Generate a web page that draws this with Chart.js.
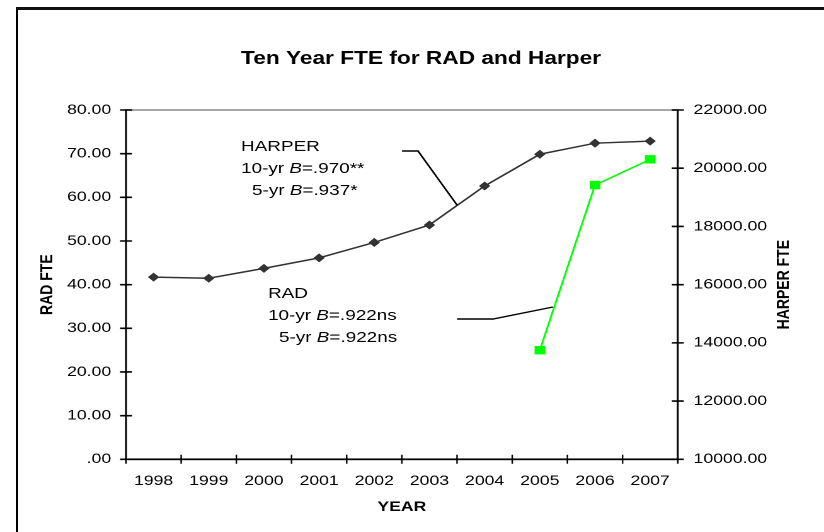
<!DOCTYPE html>
<html>
<head>
<meta charset="utf-8">
<script src="https://cdn.jsdelivr.net/npm/chart.js@4.4.0/dist/chart.umd.min.js"></script>
<style>
  html, body { margin: 0; padding: 0; background: #fff; }
  body { width: 824px; height: 532px; overflow: hidden; position: relative; }
  /* the original picture is an old chart stretched sideways, so stretch ours the same way */
  #wrap { position: absolute; left: 0; top: 0; width: 654px; height: 532px; transform: scaleX(1.26); transform-origin: 0 0; }
  #frame { position: absolute; left: 16px; top: 7px; width: 900px; height: 700px; border-left: 2px solid #000; border-top: 3px solid #111; pointer-events: none; }
</style>
</head>
<body>
<div id="wrap"><canvas id="myChart"></canvas></div>
<div id="frame"></div>
<script>
const SX = 1.26;
const px = x => x / SX; // picture x -> canvas x

const years = ['1998', '1999', '2000', '2001', '2002', '2003', '2004', '2005', '2006', '2007'];
const harperFte = [16260, 16220, 16560, 16920, 17450, 18050, 19390, 20480, 20860, 20930];
const radFte = [null, null, null, null, null, null, null, 25.0, 62.8, 68.7];
const radTickLabels = ['.00', '10.00', '20.00', '30.00', '40.00', '50.00', '60.00', '70.00', '80.00'];
const harperTickLabels = ['10000.00', '12000.00', '14000.00', '16000.00', '18000.00', '20000.00', '22000.00'];

const FONT = '"Liberation Sans", Arial, sans-serif';
Chart.defaults.font.family = FONT;
Chart.defaults.color = '#000';

// write a line made of normal / italic pieces
function drawRuns(ctx, x, y, runs) {
    let cx = x;
    runs.forEach(([text, italic]) => {
        ctx.font = (italic ? 'italic ' : '') + '15px ' + FONT;
        ctx.fillText(text, cx, y);
        cx += ctx.measureText(text).width;
    });
}

const decor = {
    id: 'decor',
    beforeDatasetsDraw(chart) {
        const {ctx, chartArea: a, scales} = chart;
        ctx.save();
        // plot area border
        ctx.strokeStyle = '#a8a8a8';
        ctx.lineWidth = 2;
        ctx.strokeRect(a.left, a.top, a.right - a.left, a.bottom - a.top);

        ctx.strokeStyle = '#000';
        // vertical axes + x tick marks
        ctx.lineWidth = 1.2;
        ctx.beginPath();
        ctx.moveTo(a.left, a.top); ctx.lineTo(a.left, a.bottom);
        ctx.moveTo(a.right, a.top); ctx.lineTo(a.right, a.bottom);
        const xs = scales.x;
        const half = (xs.getPixelForValue(1) - xs.getPixelForValue(0)) / 2;
        for (let i = 0; i <= years.length; i++) {
            const x = i < years.length ? xs.getPixelForValue(i) - half : xs.getPixelForValue(i - 1) + half;
            ctx.moveTo(x, a.bottom - 4.5); ctx.lineTo(x, a.bottom + 4.5);
        }
        ctx.stroke();
        // horizontal axis + y tick marks
        ctx.lineWidth = 1.6;
        ctx.beginPath();
        ctx.moveTo(a.left, a.bottom); ctx.lineTo(a.right, a.bottom);
        scales.y.ticks.forEach(t => {
            const y = scales.y.getPixelForValue(t.value);
            ctx.moveTo(a.left - px(6), y); ctx.lineTo(a.left + px(6), y);
        });
        scales.y2.ticks.forEach(t => {
            const y = scales.y2.getPixelForValue(t.value);
            ctx.moveTo(a.right - px(6), y); ctx.lineTo(a.right + px(6), y);
        });
        ctx.stroke();
        ctx.restore();
    },
    afterDraw(chart) {
        const {ctx, chartArea: a} = chart;
        ctx.save();
        ctx.fillStyle = '#000';
        ctx.textBaseline = 'middle';
        ctx.textAlign = 'left';

        // callouts
        drawRuns(ctx, px(241), 147, [['HARPER', false]]);
        drawRuns(ctx, px(241), 169, [['10-yr ', false], ['B', true], ['=.970**', false]]);
        drawRuns(ctx, px(252), 191, [['5-yr ', false], ['B', true], ['=.937*', false]]);
        drawRuns(ctx, px(268), 294, [['RAD', false]]);
        drawRuns(ctx, px(268), 316, [['10-yr ', false], ['B', true], ['=.922ns', false]]);
        drawRuns(ctx, px(279), 338, [['5-yr ', false], ['B', true], ['=.922ns', false]]);

        ctx.strokeStyle = '#000';
        ctx.lineWidth = 1.4;
        ctx.beginPath();
        ctx.moveTo(px(402), 151); ctx.lineTo(px(418), 151); ctx.lineTo(px(457), 205);
        ctx.moveTo(px(457), 319); ctx.lineTo(px(493), 319); ctx.lineTo(px(553), 307);
        ctx.stroke();

        // right axis title reads bottom to top
        ctx.translate(px(784), (a.top + a.bottom) / 2);
        ctx.rotate(-Math.PI / 2);
        ctx.textAlign = 'center';
        ctx.font = 'bold 14px ' + FONT;
        ctx.fillText('HARPER FTE', 0, 0);
        ctx.restore();
    }
};

const data = {
    labels: years,
    datasets: [{
        label: 'HARPER',
        data: harperFte,
        yAxisID: 'y2',
        borderColor: '#333333',
        backgroundColor: '#333333',
        borderWidth: 1.5,
        pointStyle: 'rectRot',
        pointRadius: 3.8,
        pointBorderWidth: 1,
        tension: 0,
    }, {
        label: 'RAD',
        data: radFte,
        yAxisID: 'y',
        borderColor: '#00ff00',
        backgroundColor: '#00ff00',
        borderWidth: 1.5,
        pointStyle: 'rect',
        pointRadius: 5.2,
        pointBorderWidth: 1,
        tension: 0,
    }]
};

const config = {
    type: 'line',
    data: data,
    plugins: [decor],
    options: {
        responsive: true,
        maintainAspectRatio: false,
        devicePixelRatio: 2,
        animation: false,
        layout: { padding: { left: px(18), right: 0, top: 0, bottom: 0 } },
        plugins: {
            legend: { display: false },
            tooltip: { enabled: false },
            title: {
                display: true,
                text: 'Ten Year FTE for RAD and Harper',
                color: '#000',
                font: { size: 18, weight: 'bold' },
                padding: { top: 48.2, bottom: 40.2 }
            }
        },
        scales: {
            x: {
                offset: true,
                grid: { display: false, drawTicks: false },
                border: { display: false },
                ticks: { font: { size: 14 }, padding: 13.3, maxRotation: 0, autoSkip: false },
                title: { display: true, text: 'YEAR', font: { size: 14, weight: 'bold' }, padding: { top: 0, bottom: 16.6 } },
                afterFit: s => { s.height = 532 - 459.3; }
            },
            y: {
                position: 'left',
                min: 0,
                max: 80,
                grid: { display: false, drawTicks: false },
                border: { display: false },
                ticks: {
                    stepSize: 10,
                    font: { size: 14 },
                    padding: px(14.8),
                    callback: (v, i) => radTickLabels[i]
                },
                title: { display: true, text: 'RAD FTE', font: { size: 14, weight: 'bold' }, padding: { top: 15, bottom: 0 } },
                afterFit: s => { s.width = px(126 - 18); }
            },
            y2: {
                position: 'right',
                min: 10000,
                max: 22000,
                grid: { display: false, drawTicks: false },
                border: { display: false },
                ticks: {
                    stepSize: 2000,
                    font: { size: 14 },
                    padding: px(15.8),
                    callback: (v, i) => harperTickLabels[i]
                },
                afterFit: s => { s.width = px(824 - 677.7); }
            }
        }
    }
};

var ctx = document.getElementById('myChart').getContext('2d');
var myChart = new Chart(ctx, config);
</script>
</body>
</html>
